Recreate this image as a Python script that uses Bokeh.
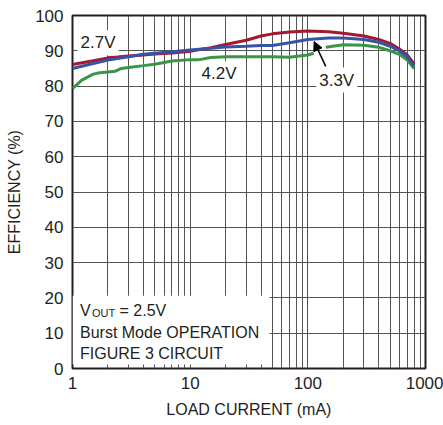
from bokeh.plotting import figure
from bokeh.models import (FixedTicker, Label, BoxAnnotation, Arrow, NormalHead)
from bokeh.embed import file_html
from bokeh.resources import INLINE

# ---- data ----
x_red = [1, 1.5, 2, 3, 4, 5, 7, 10, 15, 20, 30, 40, 50, 70, 100, 150, 200, 300, 400, 500, 600, 700, 800]
y_red = [86.1, 87.2, 88.0, 88.5, 88.8, 89.1, 89.4, 89.9, 90.9, 91.8, 93.0, 94.2, 94.8, 95.3, 95.6, 95.4, 95.0, 94.2, 93.2, 92.1, 90.5, 88.8, 86.3]

x_blue = [1, 1.5, 2, 3, 4, 5, 7, 10, 15, 20, 30, 40, 50, 70, 100, 150, 200, 300, 400, 500, 600, 700, 800]
y_blue = [85.0, 86.4, 87.4, 88.3, 89.0, 89.3, 89.7, 90.2, 90.7, 91.1, 91.3, 91.5, 91.5, 92.3, 93.2, 93.6, 93.6, 93.2, 92.4, 91.3, 90.0, 88.3, 85.7]

x_green = [1, 1.2, 1.5, 1.7, 2, 2.3, 2.6, 3, 4, 5, 7, 10, 12, 15, 20, 30, 50, 70, 100, 112, 125, 142, 200, 300, 400, 500, 600, 700, 800]
y_green = [79.3, 81.7, 83.4, 83.8, 84.0, 84.2, 85.0, 85.3, 85.8, 86.2, 87.1, 87.5, 87.5, 88.1, 88.3, 88.3, 88.3, 88.2, 88.8, 89.3, float("nan"), 91.0, 91.7, 91.6, 91.0, 90.0, 89.0, 87.4, 85.0]

x_ticks = [1, 10, 100, 1000]
x_tick_labels = ["1", "10", "100", "1000"]
x_minor = [m * d for d in (1, 10, 100) for m in range(2, 10)]
y_ticks = list(range(0, 101, 10))

FONT = "Liberation Sans"
TXT = "#231f20"
RED = "#a3192f"
BLUE = "#3653a5"
GREEN = "#3a9548"
GRID = "#555555"

p = figure(width=443, height=425, x_axis_type="log", x_range=(1, 1000), y_range=(0, 100),
           output_backend="svg", toolbar_location=None,
           min_border_left=72, min_border_right=18, min_border_top=15, min_border_bottom=57,
           background_fill_color="white", border_fill_color="white")

p.outline_line_color = TXT
p.outline_line_width = 2

p.xaxis.ticker = FixedTicker(ticks=x_ticks, minor_ticks=x_minor)
p.xaxis.major_label_overrides = {t: l for t, l in zip(x_ticks, x_tick_labels)}
p.yaxis.ticker = FixedTicker(ticks=y_ticks)

for ax in (p.xaxis[0], p.yaxis[0]):
    ax.axis_line_color = None
    ax.major_tick_in = 0
    ax.major_tick_out = 0
    ax.minor_tick_in = 0
    ax.minor_tick_out = 0
    ax.major_label_text_font = FONT
    ax.major_label_text_font_size = "17px"
    ax.major_label_text_color = TXT
    ax.axis_label_text_font = FONT
    ax.axis_label_text_font_size = "16px"
    ax.axis_label_text_font_style = "normal"
    ax.axis_label_text_color = TXT

p.xaxis.axis_label = "LOAD CURRENT (mA)"
p.yaxis.axis_label = "EFFICIENCY (%)"
p.xaxis.major_label_standoff = 8
p.xaxis.axis_label_standoff = 9
p.yaxis.major_label_standoff = 9
p.yaxis.axis_label_standoff = 9

p.xgrid.ticker = FixedTicker(ticks=x_ticks, minor_ticks=x_minor)
p.xgrid.grid_line_color = GRID
p.xgrid.grid_line_width = 1
p.xgrid.minor_grid_line_color = GRID
p.xgrid.minor_grid_line_width = 1
p.ygrid.ticker = FixedTicker(ticks=y_ticks)
p.ygrid.grid_line_color = GRID
p.ygrid.grid_line_width = 1

p.line(x_red, y_red, line_color=RED, line_width=3)
p.line(x_green, y_green, line_color=GREEN, line_width=3)
p.line(x_blue, y_blue, line_color=BLUE, line_width=3)

# curve labels
def curve_label(x, y, text):
    p.add_layout(Label(x=x, y=y, text=text, text_align="center", text_baseline="middle",
                       text_font=FONT, text_font_size="17px", text_color=TXT,
                       background_fill_color="white", padding=3))

curve_label(1.65, 92.3, "2.7V")
curve_label(17.6, 83.6, "4.2V")
curve_label(176, 81.7, "3.3V")

p.add_layout(Arrow(x_start=142, y_start=85.6, x_end=113, y_end=92.6, line_color="black", line_width=1.5,
                   end=NormalHead(size=9, fill_color="black", line_color="black")))

# condition box
p.add_layout(BoxAnnotation(left=1, right=47.3, bottom=1.1, top=20.6, fill_color="white",
                           fill_alpha=1, line_color=None))

def note(text, yv, xo, size="16px"):
    p.add_layout(Label(x=1, y=yv, x_offset=xo, text=text, text_align="left",
                       text_baseline="alphabetic", text_font=FONT, text_font_size=size,
                       text_color=TXT))

note("V", 16.5, 7.5)
note("OUT", 15.6, 19.5, "11px")
note("= 2.5V", 16.5, 47)
note("Burst Mode OPERATION", 10.2, 7.5)
note("FIGURE 3 CIRCUIT", 4.3, 7.5)

open("out.html", "w").write(file_html(p, INLINE))
